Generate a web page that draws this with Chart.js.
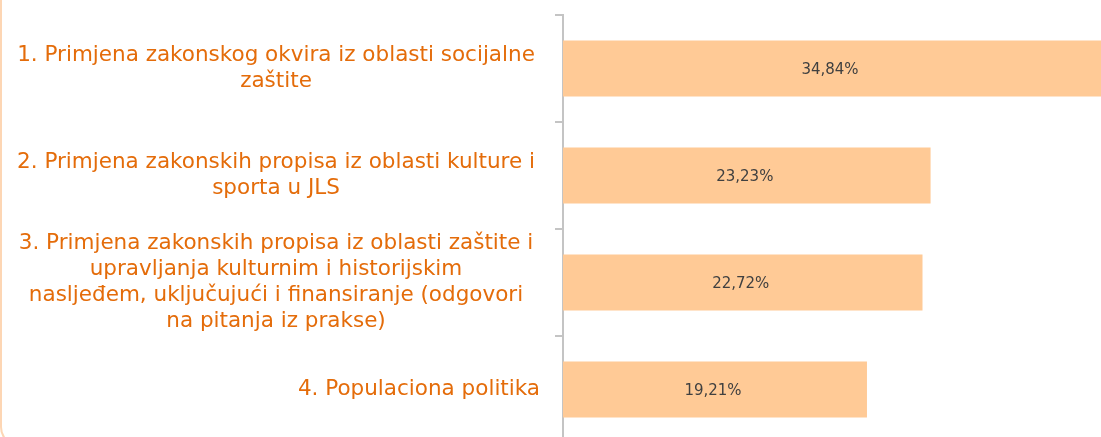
<!DOCTYPE html>
<html>
<head>
<meta charset="utf-8">
<script src="https://cdn.jsdelivr.net/npm/chart.js@4/dist/chart.umd.min.js"></script>
<style>
  html, body { margin: 0; padding: 0; background: #ffffff; overflow: hidden; }
  #wrap { position: relative; width: 1101px; height: 437px; overflow: hidden; }
  #frame { position: absolute; left: 0; top: -30px; width: 1300px; height: 477px;
           border: 2px solid #fdd6b4; border-radius: 20px; box-sizing: border-box; }
  #cv { position: absolute; left: 0; top: 0; }
</style>
</head>
<body>
<div id="wrap">
  <div id="frame"></div>
  <canvas id="cv" width="1101" height="443"></canvas>
</div>
<script>
const categories = [
  ["1. Primjena zakonskog okvira iz oblasti socijalne", "zaštite"],
  ["2. Primjena zakonskih propisa iz oblasti kulture i", "sporta u JLS"],
  ["3. Primjena zakonskih propisa iz oblasti zaštite i", "upravljanja kulturnim i historijskim", "nasljeđem, uključujući i finansiranje (odgovori", "na pitanja iz prakse)"],
  ["4. Populaciona politika"]
];
const values = [34.84, 23.23, 22.72, 19.21];
const valueLabels = ["34,84%", "23,23%", "22,72%", "19,21%"];

const LABEL_FONT = '21.5px "DejaVu Sans"';
const LABEL_COLOR = '#e46c0a';
const LINE_H = 26;
const LABEL_RIGHT = 540;
const WRAP_CENTER = 276;

const labelPlugin = {
  id: 'customLabels',
  afterDraw(chart) {
    const ctx = chart.ctx;
    const y = chart.scales.y;
    const area = chart.chartArea;
    ctx.save();
    ctx.font = LABEL_FONT;
    ctx.fillStyle = LABEL_COLOR;
    ctx.textAlign = 'center';
    ctx.textBaseline = 'middle';
    categories.forEach((lines, i) => {
      const cy = y.getPixelForValue(i);
      const w = Math.max(...lines.map(l => ctx.measureText(l).width));
      const cx = lines.length > 1 ? WRAP_CENTER : LABEL_RIGHT - w / 2;
      const y0 = cy - (lines.length - 1) * LINE_H / 2;
      lines.forEach((l, k) => ctx.fillText(l, cx, y0 + k * LINE_H));
    });
    ctx.font = '15px "DejaVu Sans"';
    ctx.fillStyle = '#404040';
    const meta = chart.getDatasetMeta(0);
    meta.data.forEach((bar, i) => {
      const right = Math.min(bar.x, area.right);
      const left = Math.max(bar.base, area.left);
      ctx.fillText(valueLabels[i], (left + right) / 2 - 2, bar.y + 2);
    });
    ctx.restore();
  }
};

new Chart(document.getElementById('cv'), {
  type: 'bar',
  data: {
    labels: categories.map(c => c.join(' ')),
    datasets: [{
      data: values,
      backgroundColor: '#ffca96',
      borderWidth: 0,
      categoryPercentage: 1,
      barPercentage: 0.523
    }]
  },
  options: {
    indexAxis: 'y',
    responsive: false,
    animation: false,
    layout: { padding: { top: 15, right: 0, bottom: 0, left: 0 } },
    plugins: { legend: { display: false }, tooltip: { enabled: false } },
    scales: {
      x: { display: false, min: 0, max: 34 },
      y: {
        afterFit(scale) { scale.width = 563; },
        ticks: { display: false },
        grid: { offset: true, drawOnChartArea: false, drawTicks: true, tickLength: 8, color: '#c4c4c4', lineWidth: 2 },
        border: { display: true, color: '#c4c4c4', width: 2 }
      }
    }
  },
  plugins: [labelPlugin]
});
</script>
</body>
</html>
